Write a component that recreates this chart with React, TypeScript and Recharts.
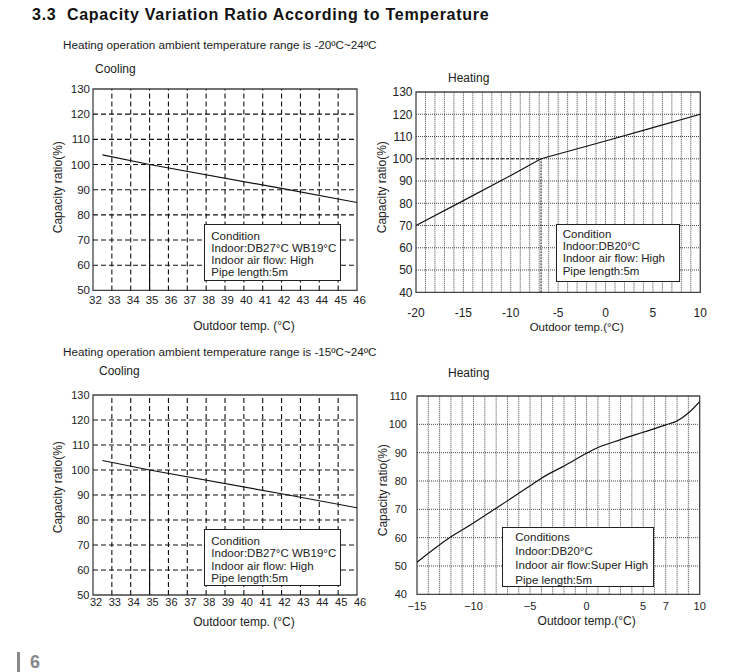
import React from 'react';
import { LineChart, Line, XAxis, YAxis, ReferenceLine, ReferenceArea } from 'recharts';

const FONT = '"Liberation Sans", Arial, Helvetica, sans-serif';

// ---- Cooling (same curve in both units) ----
const coolTemps = [32.5, 35, 42, 46];
const coolRatios = [103.8, 100, 90.5, 84.9];
const coolXTicks = [32, 33, 34, 35, 36, 37, 38, 39, 40, 41, 42, 43, 44, 45, 46];
const coolYTicks = [50, 60, 70, 80, 90, 100, 110, 120, 130];
const coolGridX = [33, 34, 35, 36, 37, 38, 39, 40, 41, 42, 43, 44, 45];
const coolGridY = [60, 70, 80, 90, 100, 110, 120];
const coolRefTemp = 35;
const coolRefRatio = 100;

// ---- Heating, unit A (-20..24) ----
const heatATemps = [-20, -15, -10, -6.8, 0, 5, 10];
const heatARatios = [70, 81.2, 92.5, 100, 108, 114, 120];
const heatAXTicks = [-20, -15, -10, -5, 0, 5, 10];
const heatAYTicks = [40, 50, 60, 70, 80, 90, 100, 110, 120, 130];
const heatAGridX = [-19, -18, -17, -16, -15, -14, -13, -12, -11, -10, -9, -8, -7, -6, -5, -4, -3, -2, -1, 0, 1, 2, 3, 4, 5, 6, 7, 8, 9];
const heatAGridY = [50, 60, 70, 80, 90, 100, 110, 120];
const heatAKneeTemp = -6.8;
const heatAKneeRatio = 100;

// ---- Heating, unit B (-15..24) ----
const heatBTemps = [-15, -12, -10, -8, -5, -4, -2, 0, 1, 3, 5, 7, 8, 9, 10];
const heatBRatios = [51.3, 60.3, 65.2, 70.4, 78.3, 81, 85.3, 89.8, 91.8, 94.6, 97.2, 99.8, 101.2, 104, 108];
const heatBXTicks = [-15, -10, -5, 0, 5, 7, 10];
const heatBYTicks = [40, 50, 60, 70, 80, 90, 100, 110];
const heatBGridX = [-14, -13, -12, -11, -10, -9, -8, -7, -6, -5, -4, -3, -2, -1, 0, 1, 2, 3, 4, 5, 6, 7, 8, 9];
const heatBGridY = [50, 60, 70, 80, 90, 100];

const coolLegend = ['Condition', 'Indoor:DB27\u00B0C WB19\u00B0C', 'Indoor air flow: High', 'Pipe length:5m'];
const heatALegend = ['Condition', 'Indoor:DB20\u00B0C', 'Indoor air flow: High', 'Pipe length:5m'];
const heatBLegend = ['Conditions', 'Indoor:DB20\u00B0C', 'Indoor air flow:Super High', 'Pipe length:5m'];

const toRows = (ts: number[], rs: number[]) => ts.map((t, i) => ({ t, r: rs[i] }));

type Box = { x0: number; x1: number; y0: number; y1: number };

function Panel(p: {
  box: Box;
  data: { t: number; r: number }[];
  xDomain: [number, number];
  yDomain: [number, number];
  xTicks: number[];
  yTicks: number[];
  gridX: number[];
  gridY: number[];
  gridDash: string;
  gridColor: string;
  gridWidth: number;
  xFs: number;
  yFs: number;
  xTm: number;
  yTm: number;
  xDx?: number;
  xFmt?: (v: number) => string;
  curve: 'linear' | 'monotone';
  children?: React.ReactNode;
}) {
  const W = p.box.x1 - p.box.x0 + 60;
  const H = p.box.y1 - p.box.y0 + 60;
  return (
    <div style={{ position: 'absolute', left: p.box.x0 - 50, top: p.box.y0 - 10 }}>
      <LineChart width={W} height={H} data={p.data} margin={{ top: 10, right: 10, left: 0, bottom: 10 }}>
        <XAxis
          type="number"
          dataKey="t"
          domain={p.xDomain}
          ticks={p.xTicks}
          interval={0}
          allowDataOverflow
          height={40}
          axisLine={false}
          tickLine={false}
          tickSize={0}
          tickMargin={p.xTm}
          tickFormatter={p.xFmt}
          tick={{ fill: '#222', fontSize: p.xFs, fontFamily: FONT, dx: p.xDx || 0 }}
        />
        <YAxis
          type="number"
          domain={p.yDomain}
          ticks={p.yTicks}
          interval={0}
          allowDataOverflow
          width={50}
          axisLine={false}
          tickLine={false}
          tickSize={0}
          tickMargin={p.yTm}
          tick={{ fill: '#222', fontSize: p.yFs, fontFamily: FONT }}
        />
        {p.gridY.map((v) => (
          <ReferenceLine key={'gy' + v} y={v} stroke={p.gridColor} strokeWidth={p.gridWidth} strokeDasharray={p.gridDash} />
        ))}
        {p.gridX.map((v) => (
          <ReferenceLine key={'gx' + v} x={v} stroke={p.gridColor} strokeWidth={p.gridWidth} strokeDasharray={p.gridDash} />
        ))}
        {p.children}
        <ReferenceArea
          x1={p.xDomain[0]}
          x2={p.xDomain[1]}
          y1={p.yDomain[0]}
          y2={p.yDomain[1]}
          fill="none"
          fillOpacity={0}
          stroke="#444"
          strokeWidth={1.3}
        />
        <Line dataKey="r" type={p.curve} stroke="#111" strokeWidth={1.2} dot={false} isAnimationActive={false} />
      </LineChart>
    </div>
  );
}

function Txt(props: {
  x: number;
  cy: number;
  fs: number;
  text: string;
  bold?: boolean;
  color?: string;
  center?: boolean;
  rotate?: boolean;
  ls?: number;
}) {
  const lh = props.fs * 1.2;
  let transform = '';
  if (props.center) transform = 'translate(-50%, 0)';
  if (props.rotate) transform = 'translate(-50%, 0) rotate(-90deg)';
  return (
    <div
      style={{
        position: 'absolute',
        left: props.x,
        top: props.cy - lh / 2,
        fontSize: props.fs,
        lineHeight: lh + 'px',
        fontWeight: props.bold ? 'bold' : 'normal',
        color: props.color || '#222',
        fontFamily: FONT,
        whiteSpace: 'pre',
        letterSpacing: props.ls || 0,
        transform,
        transformOrigin: '50% 50%',
      }}
    >
      {props.text}
    </div>
  );
}

function LegendBox(props: { left: number; top: number; width: number; height: number; lines: string[]; padL: number; padT: number; lh: number }) {
  return (
    <div
      style={{
        position: 'absolute',
        left: props.left,
        top: props.top,
        width: props.width,
        height: props.height,
        boxSizing: 'border-box',
        border: '1.3px solid #222',
        background: '#fff',
        paddingLeft: props.padL,
        paddingTop: props.padT,
        fontFamily: FONT,
        fontSize: 11.5,
        lineHeight: props.lh + 'px',
        color: '#222',
        whiteSpace: 'nowrap',
      }}
    >
      {props.lines.map((l) => (
        <div key={l}>{l}</div>
      ))}
    </div>
  );
}

const minusFmt = (v: number) => (v < 0 ? '\u2212' + Math.abs(v) : String(v));

export default function App() {
  const coolData = toRows(coolTemps, coolRatios);
  const heatAData = toRows(heatATemps, heatARatios);
  const heatBData = toRows(heatBTemps, heatBRatios);

  const coolRefs = (
    <ReferenceLine
      segment={[
        { x: coolRefTemp, y: 50 },
        { x: coolRefTemp, y: coolRefRatio },
      ]}
      stroke="#111"
      strokeWidth={1.2}
    />
  );

  return (
    <div style={{ position: 'absolute', left: 0, top: 0, width: 731, height: 672, background: '#fff', overflow: 'hidden' }}>
      <Txt x={32} cy={15} fs={16} ls={0.75} bold color="#111" text={'3.3  Capacity Variation Ratio According to Temperature'} />
      <Txt x={63} cy={45.5} fs={11.7} text={'Heating operation ambient temperature range is -20\u00BAC~24\u00BAC'} />
      <Txt x={95} cy={69.5} fs={12} text="Cooling" />
      <Txt x={448} cy={78} fs={12} text="Heating" />

      <Txt x={63} cy={352} fs={11.7} text={'Heating operation ambient temperature range is -15\u00BAC~24\u00BAC'} />
      <Txt x={99} cy={371} fs={12} text="Cooling" />
      <Txt x={448} cy={373.5} fs={12} text="Heating" />

      {/* Top-left: cooling */}
      <Panel
        box={{ x0: 93.3, x1: 357.3, y0: 89.3, y1: 290.7 }}
        data={coolData}
        xDomain={[32, 46]}
        yDomain={[50, 130]}
        xTicks={coolXTicks}
        yTicks={coolYTicks}
        gridX={coolGridX}
        gridY={coolGridY}
        gridDash="5 3"
        gridColor="#111"
        gridWidth={1.1}
        xFs={11.5}
        yFs={11.5}
        xTm={5}
        yTm={3}
        xDx={2.5}
        curve="linear"
      >
        {coolRefs}
      </Panel>
      <LegendBox left={204.3} top={224} width={136.7} height={57.3} lines={coolLegend} padL={6} padT={4.5} lh={12.3} />
      <Txt x={58.3} cy={186.7} fs={12} rotate text="Capacity ratio(%)" />
      <Txt x={244} cy={326} fs={12} center text={'Outdoor temp. (\u00B0C)'} />

      {/* Top-right: heating A */}
      <Panel
        box={{ x0: 415.7, x1: 700, y0: 92, y1: 292.3 }}
        data={heatAData}
        xDomain={[-20, 10]}
        yDomain={[40, 130]}
        xTicks={heatAXTicks}
        yTicks={heatAYTicks}
        gridX={heatAGridX}
        gridY={heatAGridY}
        gridDash="1 1"
        gridColor="#444"
        gridWidth={1}
        xFs={12}
        yFs={12}
        xTm={16}
        yTm={3.5}
        curve="linear"
      >
        <ReferenceLine
          segment={[
            { x: -20, y: heatAKneeRatio },
            { x: heatAKneeTemp, y: heatAKneeRatio },
          ]}
          stroke="#111"
          strokeWidth={1}
          strokeDasharray="3 2"
        />
        <ReferenceLine
          segment={[
            { x: heatAKneeTemp, y: 40 },
            { x: heatAKneeTemp, y: heatAKneeRatio },
          ]}
          stroke="#111"
          strokeWidth={1}
          strokeDasharray="2 1"
        />
      </Panel>
      <LegendBox left={555.7} top={224} width={124.3} height={58.3} lines={heatALegend} padL={6} padT={2.5} lh={12.4} />
      <Txt x={382.3} cy={186.7} fs={12} rotate text="Capacity ratio(%)" />
      <Txt x={576.7} cy={327.7} fs={11.5} center text={'Outdoor temp.(\u00B0C)'} />

      {/* Bottom-left: cooling */}
      <Panel
        box={{ x0: 93.3, x1: 357.3, y0: 394.7, y1: 594.7 }}
        data={coolData}
        xDomain={[32, 46]}
        yDomain={[50, 130]}
        xTicks={coolXTicks}
        yTicks={coolYTicks}
        gridX={coolGridX}
        gridY={coolGridY}
        gridDash="5 3"
        gridColor="#111"
        gridWidth={1.1}
        xFs={11}
        yFs={11}
        xTm={3}
        yTm={3.5}
        xDx={3}
        curve="linear"
      >
        {coolRefs}
      </Panel>
      <LegendBox left={204.3} top={529} width={136.7} height={57} lines={coolLegend} padL={6} padT={4.5} lh={12.5} />
      <Txt x={58} cy={486.7} fs={12} rotate text="Capacity ratio(%)" />
      <Txt x={244} cy={621.7} fs={12} center text={'Outdoor temp. (\u00B0C)'} />

      {/* Bottom-right: heating B */}
      <Panel
        box={{ x0: 417.3, x1: 700, y0: 396, y1: 594.3 }}
        data={heatBData}
        xDomain={[-15, 10]}
        yDomain={[40, 110]}
        xTicks={heatBXTicks}
        yTicks={heatBYTicks}
        gridX={heatBGridX}
        gridY={heatBGridY}
        gridDash="1 1"
        gridColor="#444"
        gridWidth={1}
        xFs={11}
        yFs={11}
        xTm={8}
        yTm={10}
        xFmt={minusFmt}
        curve="monotone"
      />
      <LegendBox left={502.3} top={526.7} width={152} height={60.6} lines={heatBLegend} padL={12} padT={2.3} lh={14.2} />
      <Txt x={383.3} cy={490} fs={12} rotate text="Capacity ratio(%)" />
      <Txt x={586.7} cy={620.7} fs={12} center text={'Outdoor temp.(\u00B0C)'} />

      {/* page number */}
      <div style={{ position: 'absolute', left: 17, top: 652, width: 3, height: 20, background: '#888' }} />
      <Txt x={30} cy={663} fs={18} bold color="#888" text="6" />
    </div>
  );
}
